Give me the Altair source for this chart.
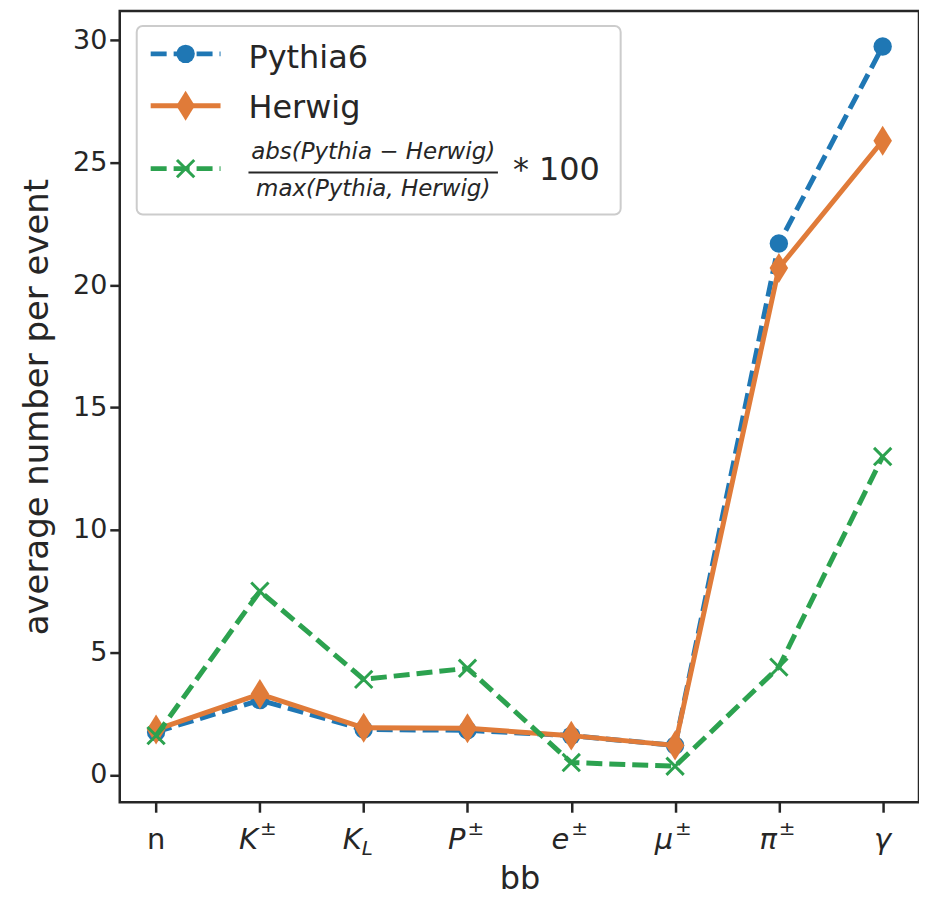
import altair as alt
import pandas as pd

# ---------------- data ----------------
categories = ["n", "K±", "K_L", "P±", "e±", "μ±", "π±", "γ"]
label_base = ["n", "K", "K", "P", "e", "μ", "π", "γ"]
label_script = ["", "±", "L", "±", "±", "±", "±", ""]
script_kind = ["", "sup", "sub", "sup", "sup", "sup", "sup", ""]
label_italic = [False, True, True, True, True, True, True, True]

pythia = [1.75, 3.05, 1.85, 1.82, 1.6, 1.2, 21.7, 29.75]
herwig = [1.85, 3.3, 1.92, 1.9, 1.6, 1.2, 20.7, 25.9]
rel_diff = [1.6, 7.5, 3.9, 4.35, 0.5, 0.35, 4.4, 13.0]

y_ticks = [0, 5, 10, 15, 20, 25, 30]
y_domain = [-1.12, 31.2]

legend_names = ["Pythia6", "Herwig"]
legend_numerator = "abs(Pythia − Herwig)"
legend_denominator = "max(Pythia, Herwig)"
legend_factor = "* 100"

# ---------------- styles ----------------
FONT = "DejaVu Sans"
DARK = "#262626"
BLUE = "#1f77b4"
ORANGE = "#e07b39"
GREEN = "#2ca24f"
W, H = 801, 793
LW = 5
DASH = [16, 7]
DIAMOND = "M0,-1L0.62,0L0,1L-0.62,0Z"
XSHAPE = "M-1,-1L1,1M1,-1L-1,1"

df = pd.DataFrame({
    "cat": categories,
    "base": label_base,
    "script": label_script,
    "kind": script_kind,
    "italic": label_italic,
    "pythia": pythia,
    "herwig": herwig,
    "diff": rel_diff,
})

x_enc = alt.X(
    "cat:N",
    sort=categories,
    scale=alt.Scale(type="point", padding=0.35),
    axis=alt.Axis(
        labels=False, ticks=True, tickSize=10, tickWidth=2.5, tickColor=DARK,
        domain=False, grid=False, title="bb", titleFontSize=32, titleFont=FONT,
        titleFontWeight="normal", titleColor=DARK, titlePadding=50,
    ),
)
y_scale = alt.Scale(domain=y_domain, nice=False, zero=False)
y_axis = alt.Axis(
    values=y_ticks, tickSize=10, tickWidth=2.5, tickColor=DARK, domain=False,
    grid=False, labelFontSize=27, labelFont=FONT, labelColor=DARK, labelPadding=3,
    title="average number per event", titleFontSize=34, titleFont=FONT,
    titleFontWeight="normal", titleColor=DARK, titlePadding=18,
)


def yq(field):
    return alt.Y(f"{field}:Q", scale=y_scale, axis=y_axis)


base = alt.Chart(df)

blue_line = base.mark_line(color=BLUE, strokeWidth=LW, strokeDash=DASH).encode(x=x_enc, y=yq("pythia"))
blue_pts = base.mark_point(shape="circle", filled=True, size=340, color=BLUE, opacity=1).encode(x=x_enc, y=yq("pythia"))
orange_line = base.mark_line(color=ORANGE, strokeWidth=LW).encode(x=x_enc, y=yq("herwig"))
orange_pts = base.mark_point(shape=DIAMOND, filled=True, size=900, color=ORANGE, opacity=1).encode(x=x_enc, y=yq("herwig"))
green_line = base.mark_line(color=GREEN, strokeWidth=LW, strokeDash=DASH).encode(x=x_enc, y=yq("diff"))
green_pts = base.mark_point(shape=XSHAPE, filled=False, size=300, color=GREEN, strokeWidth=3, opacity=1).encode(x=x_enc, y=yq("diff"))

# custom tick labels (math style)
lab_kw = dict(font=FONT, color=DARK, baseline="alphabetic")
lab_plain = base.transform_filter("!datum.italic").mark_text(align="center", fontSize=29, **lab_kw).encode(
    x=x_enc, y=alt.value(H + 47), text="base:N")
lab_ital_c = base.transform_filter("datum.italic && datum.script == ''").mark_text(
    align="center", fontSize=29, fontStyle="italic", **lab_kw).encode(x=x_enc, y=alt.value(H + 47), text="base:N")
lab_ital_r = base.transform_filter("datum.italic && datum.script != ''").mark_text(
    align="right", dx=-2, fontSize=29, fontStyle="italic", **lab_kw).encode(x=x_enc, y=alt.value(H + 47), text="base:N")
lab_sup = base.transform_filter("datum.kind == 'sup'").mark_text(
    align="left", dx=0, fontSize=20, **lab_kw).encode(x=x_enc, y=alt.value(H + 33), text="script:N")
lab_sub = base.transform_filter("datum.kind == 'sub'").mark_text(
    align="left", dx=-2, fontSize=20, fontStyle="italic", **lab_kw).encode(x=x_enc, y=alt.value(H + 53), text="script:N")

# legend drawn by hand
ldf = pd.DataFrame({"k": [0]})
L = alt.Chart(ldf)
leg_box = L.mark_rect(cornerRadius=6, fill="white", fillOpacity=0.8, stroke="#cccccc", strokeWidth=2).encode(
    x=alt.value(17), x2=alt.value(502), y=alt.value(15), y2=alt.value(204))
leg_l1 = L.mark_rule(color=BLUE, strokeWidth=LW, strokeDash=DASH).encode(x=alt.value(31), x2=alt.value(101), y=alt.value(43))
leg_m1 = L.mark_point(shape="circle", filled=True, size=340, color=BLUE, opacity=1).encode(x=alt.value(66), y=alt.value(43))
leg_t1 = L.mark_text(align="left", baseline="alphabetic", fontSize=32, font=FONT, color=DARK).encode(
    x=alt.value(129), y=alt.value(57), text=alt.value(legend_names[0]))
leg_l2 = L.mark_rule(color=ORANGE, strokeWidth=LW).encode(x=alt.value(31), x2=alt.value(101), y=alt.value(95))
leg_m2 = L.mark_point(shape=DIAMOND, filled=True, size=900, color=ORANGE, opacity=1).encode(x=alt.value(66), y=alt.value(95))
leg_t2 = L.mark_text(align="left", baseline="alphabetic", fontSize=32, font=FONT, color=DARK).encode(
    x=alt.value(129), y=alt.value(107), text=alt.value(legend_names[1]))
leg_l3 = L.mark_rule(color=GREEN, strokeWidth=LW, strokeDash=DASH).encode(x=alt.value(31), x2=alt.value(101), y=alt.value(158))
leg_m3 = L.mark_point(shape=XSHAPE, filled=False, size=300, color=GREEN, strokeWidth=3, opacity=1).encode(x=alt.value(66), y=alt.value(158))
leg_num = L.mark_text(align="center", baseline="alphabetic", fontSize=23, fontStyle="italic", font=FONT, color=DARK).encode(
    x=alt.value(254), y=alt.value(148), text=alt.value(legend_numerator))
leg_bar = L.mark_rule(color=DARK, strokeWidth=2).encode(x=alt.value(129), x2=alt.value(379), y=alt.value(162))
leg_den = L.mark_text(align="center", baseline="alphabetic", fontSize=23, fontStyle="italic", font=FONT, color=DARK).encode(
    x=alt.value(254), y=alt.value(185), text=alt.value(legend_denominator))
leg_fac = L.mark_text(align="left", baseline="alphabetic", fontSize=32, font=FONT, color=DARK).encode(
    x=alt.value(394), y=alt.value(169), text=alt.value(legend_factor))

chart = alt.layer(
    blue_line, blue_pts, orange_line, orange_pts, green_line, green_pts,
    lab_plain, lab_ital_c, lab_ital_r, lab_sup, lab_sub,
    leg_box, leg_l1, leg_m1, leg_t1, leg_l2, leg_m2, leg_t2,
    leg_l3, leg_m3, leg_num, leg_bar, leg_den, leg_fac,
).properties(
    width=W, height=H,
    padding={"left": 12, "top": 2, "right": 0, "bottom": 0},
    background="white",
).configure_view(
    stroke=DARK, strokeWidth=2.5,
)

chart.save("out.html", embed_options={"renderer": "svg", "actions": False})
